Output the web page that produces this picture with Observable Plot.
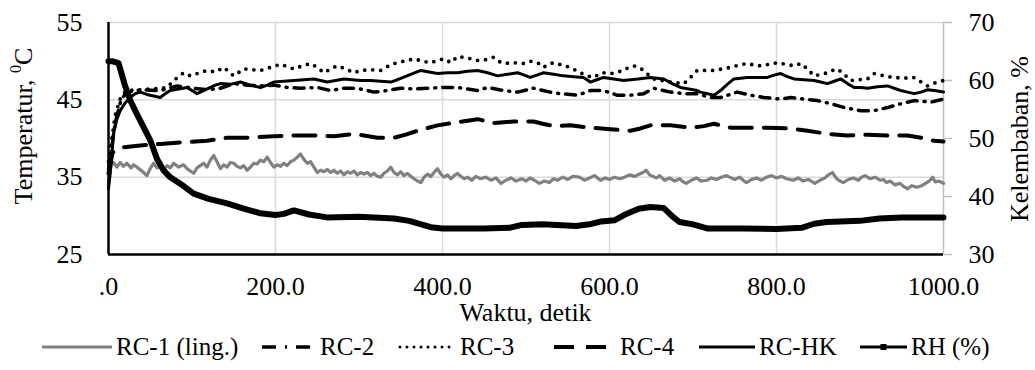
<!DOCTYPE html>
<html><head><meta charset="utf-8">
<script src="https://cdn.jsdelivr.net/npm/d3@7"></script>
<script src="https://cdn.jsdelivr.net/npm/@observablehq/plot@0.6"></script>
<style>
body{margin:0;background:#fff;font-family:"Liberation Serif","Times New Roman",serif;color:#000;}
#chart{width:1035px;height:330px;}
#legend{position:relative;width:1035px;height:40px;font-size:25px;margin-top:3px;}
#legend .item{position:absolute;top:0;display:flex;align-items:center;gap:2px;white-space:nowrap;}
</style></head><body>
<div id="chart"></div>
<div id="legend"></div>
<script>
// ---- data (time in s, temperature in °C, RH in %) ----
const xTicks = [0, 200, 400, 600, 800, 1000];
const tempTicks = [25, 35, 45, 55];
const rhTicks = [30, 40, 50, 60, 70];
const seriesNames = ["RC-1 (ling.)", "RC-2", "RC-3", "RC-4", "RC-HK", "RH (%)"];

const rc1T = [0,3,6,10,14,18,22,27,30,34,40,46,50,54,58,62,66,70,74,78,84,90,94,98,102,106,110,114,118,122,126,130,134,138,142,146,150,154,158,162,166,170,174,178,182,186,190,194,198,202,206,210,214,218,222,226,230,234,238,242,246,250,254,258,262,266,270,274,278,282,286,290,294,298,302,306,310,314,318,322,326,330,334,338,342,346,350,354,358,362,366,370,374,378,382,386,390,394,398,402,406,410,414,418,422,426,430,435,440,445,452,458,464,470,476,482,488,495,500,505,510,516,522,528,533,538,544,550,556,564,570,576,582,589,595,600,606,612,618,624,630,636,640,644,648,652,656,660,666,672,678,684,688,692,698,704,710,717,722,728,734,740,744,750,756,760,764,770,776,782,788,794,800,806,812,820,826,832,838,846,852,858,862,867,872,876,880,886,892,898,902,906,912,918,924,928,932,936,942,948,952,957,962,968,974,980,984,987,990,995,1000];
const rc1V = [34.0,36.8,36.9,36.3,36.9,36.4,36.8,36.2,36.6,36.3,35.8,35.2,36.1,36.8,36.2,36.4,35.9,36.5,36.2,36.8,36.3,36.6,36.1,35.8,35.5,36.2,36.5,36.8,36.3,37.2,37.8,37.0,36.1,36.6,36.3,36.9,36.8,36.4,36.2,36.5,35.9,36.3,36.8,36.7,37.2,37.0,37.6,36.9,36.3,36.6,36.4,36.8,36.5,37.0,37.2,37.6,38.0,37.3,36.8,37.0,36.3,35.6,35.9,35.7,36.0,35.6,35.9,35.5,35.8,35.3,35.7,35.5,35.8,35.3,35.6,35.4,35.6,35.2,35.5,35.1,35.0,35.5,35.8,36.3,35.6,35.3,35.7,35.2,35.5,35.1,34.8,34.5,34.3,35.0,35.4,35.1,35.6,36.1,35.4,35.0,35.3,34.8,35.2,35.5,35.1,34.8,35.0,34.6,35.1,34.8,35.0,34.6,34.9,34.2,34.6,34.9,34.5,34.8,34.5,34.9,34.6,34.2,34.5,34.3,34.8,34.6,35.0,34.7,35.1,35.0,34.6,34.9,35.2,34.6,34.9,34.7,35.0,34.8,35.0,35.3,35.1,35.4,35.6,35.9,35.3,35.1,34.9,35.2,34.6,34.9,34.5,34.8,34.4,34.2,34.6,34.9,34.5,34.6,34.9,34.7,35.0,35.2,35.0,34.7,35.0,34.6,34.3,34.7,34.9,34.6,35.0,35.2,34.9,35.1,34.8,34.6,34.9,34.5,34.7,34.2,34.6,34.9,35.3,35.6,34.8,34.5,34.3,34.7,34.9,34.6,35.0,35.2,34.8,35.0,34.6,34.7,34.3,34.5,34.0,34.2,33.8,33.5,33.9,33.7,33.9,34.3,34.6,35.0,34.4,34.5,34.2];

const rc2T = [0,8,15,22,40,62,82,102,118,134,150,166,182,198,214,230,250,266,282,298,318,334,350,366,382,402,418,430,442,454,473,490,509,529,541,562,577,593,609,625,641,653,673,689,705,720,733,753,769,785,805,817,833,849,865,881,901,917,933,949,965,985,1000];
const rc2V = [36.0,42.0,45.0,46.0,46.3,46.2,46.8,46.5,46.3,46.5,47.1,46.9,46.8,46.9,46.6,46.5,46.6,46.2,46.5,46.5,46.0,46.2,46.5,46.4,46.5,46.6,46.6,46.4,46.2,46.6,46.2,46.0,46.5,46.0,45.8,45.6,46.2,46.2,45.6,45.6,45.8,46.5,46.0,45.8,45.8,45.3,45.3,46.0,45.6,45.3,45.1,45.3,45.1,44.9,44.5,44.0,43.6,43.6,44.0,44.5,44.9,44.7,45.1];

const rc3T = [0,8,15,22,38,50,62,70,78,90,98,106,118,128,138,150,162,172,182,194,206,214,222,232,242,250,258,266,274,284,294,302,314,326,334,342,354,366,376,386,394,402,410,418,430,442,452,461,467,473,485,497,505,514,521,527,533,543,553,565,573,581,587,593,601,609,619,629,635,641,647,653,663,673,681,689,697,705,715,725,735,745,755,765,773,781,791,801,811,821,829,837,845,853,861,867,873,881,889,899,909,917,925,933,940,952,964,972,981,990,1000];
const rc3V = [37.0,43.0,45.5,46.2,46.3,46.4,46.5,46.6,47.5,48.5,48.1,48.4,48.8,48.6,49.2,48.1,49.0,48.9,48.8,49.2,49.6,49.3,49.0,49.4,49.7,49.2,48.5,49.0,49.4,49.0,48.5,48.8,48.9,48.8,49.3,49.7,50.0,50.3,50.0,49.8,50.1,50.3,49.8,50.6,50.4,50.1,50.2,50.5,50.0,49.7,49.8,49.7,50.0,49.8,49.2,49.6,49.8,49.5,49.2,48.5,48.1,47.9,48.3,48.5,48.4,48.5,49.0,49.4,49.2,48.8,48.2,47.7,47.5,47.3,47.2,47.1,47.9,48.8,48.8,48.8,49.0,49.2,49.5,49.7,49.5,49.4,49.6,49.8,49.6,49.4,49.7,49.0,48.1,48.3,48.5,48.8,49.0,48.3,47.5,47.6,47.7,48.4,48.2,48.0,47.9,47.8,47.9,47.4,46.8,47.2,47.5];

const rc4T = [0,5,14,38,62,86,118,142,166,198,222,246,270,294,306,322,342,356,370,394,418,442,450,461,485,509,520,533,553,577,601,625,637,649,673,697,713,725,745,769,789,817,837,861,885,909,933,957,973,989,1000];
const rc4V = [35.5,38.2,38.8,39.1,39.3,39.5,39.7,40.1,40.1,40.3,40.4,40.4,40.3,40.6,40.4,40.1,40.1,40.5,41.0,41.7,42.1,42.5,42.3,42.0,42.2,42.2,41.9,41.6,41.7,41.4,41.2,41.0,41.3,41.7,41.7,41.4,41.6,41.9,41.4,41.4,41.4,41.3,41.0,40.6,40.4,40.5,40.4,40.4,40.1,39.7,39.6];

const rchkT = [0,3,6,10,14,20,26,32,38,46,54,62,68,74,84,94,100,106,114,122,128,134,146,158,170,182,190,198,210,222,234,246,254,262,272,282,292,302,314,326,338,346,353,362,374,384,394,406,418,430,442,454,466,478,490,498,505,513,521,533,545,557,569,577,585,593,605,617,625,634,641,649,657,665,675,685,695,705,709,717,725,733,741,749,757,765,777,789,797,805,813,821,833,845,853,861,869,877,885,893,901,909,921,933,941,949,957,965,973,981,989,1000];
const rchkV = [33.5,36.5,40.6,42.5,43.6,44.6,45.3,45.8,46.0,45.7,45.5,45.3,45.8,46.2,46.4,46.6,46.2,45.8,46.2,46.6,46.9,47.1,47.0,47.3,46.9,46.6,46.9,47.3,47.4,47.5,47.6,47.7,47.5,47.3,47.5,47.7,47.6,47.5,47.5,47.4,47.3,47.6,47.9,48.3,48.8,48.6,48.4,48.5,48.5,48.7,48.8,48.5,48.1,48.3,48.5,48.2,47.9,48.2,48.5,48.3,48.1,48.0,47.9,47.3,47.6,47.9,47.7,47.5,47.6,47.7,47.8,47.9,47.8,47.7,47.1,46.6,46.4,46.2,46.0,45.8,45.6,46.2,47.0,47.7,47.8,47.9,47.9,47.9,48.2,48.4,48.0,47.7,47.6,47.5,47.3,47.1,47.4,47.7,47.1,46.6,46.6,46.5,46.7,46.8,46.5,46.2,46.0,45.8,46.0,46.3,46.2,46.0];

const rhT = [0,5,12,16,20,26,32,38,44,50,58,66,74,90,102,120,142,160,182,200,210,222,240,262,300,342,360,386,400,450,480,495,520,560,576,590,606,620,635,649,665,675,684,700,717,760,800,830,845,860,900,923,950,1000];
const rhV = [63.3,63.3,63.0,61.0,59.0,56.6,54.8,53.1,51.4,49.7,46.5,44.5,43.3,41.8,40.5,39.6,38.8,38.0,37.1,36.8,37.0,37.6,36.9,36.4,36.5,36.2,35.8,34.7,34.5,34.5,34.6,35.1,35.2,34.9,35.2,35.7,35.9,37.0,37.9,38.2,38.0,36.6,35.6,35.2,34.5,34.5,34.4,34.6,35.3,35.6,35.8,36.2,36.4,36.4];

// ---- layout ----
const W = 1035, H = 330;
const mL = 108, mR = 92, mT = 22, mB = H - 254;
const FONT = "'Liberation Serif', 'Times New Roman', serif";

// RH (%) mapped onto the temperature scale
const rhToTemp = d3.scaleLinear([30, 70], [25, 55]);

const toRows = (ts, vs, f = v => v) => ts.map((t, i) => ({t, v: f(vs[i])}));
const rc1 = toRows(rc1T, rc1V), rc2 = toRows(rc2T, rc2V), rc3 = toRows(rc3T, rc3V),
      rc4 = toRows(rc4T, rc4V), rchk = toRows(rchkT, rchkV), rh = toRows(rhT, rhV, rhToTemp);

const lineOpts = {x: "t", y: "v", strokeLinejoin: "round"};

const chart = Plot.plot({
  width: W, height: H,
  marginLeft: mL, marginRight: mR, marginTop: mT, marginBottom: mB,
  style: {fontFamily: FONT, fontSize: "26px", background: "white", color: "black"},
  x: {domain: [0, 1000]},
  y: {domain: [25, 55]},
  marks: [
    Plot.ruleY(tempTicks.slice(1), {stroke: "#d9d9d9", strokeWidth: 1.5}),
    Plot.ruleX(xTicks.slice(1, -1), {stroke: "#d9d9d9", strokeWidth: 1.5}),
    Plot.ruleX([1000], {stroke: "#bfbfbf", strokeWidth: 1.5}),
    Plot.axisX(xTicks, {tickSize: 0, tickPadding: 22, tickFormat: d => d === 0 ? ".0" : d.toFixed(1), label: null, fontSize: 26}),
    Plot.axisY(tempTicks, {tickSize: 0, tickPadding: 26, label: null, fontSize: 26}),
    Plot.axisY(rhTicks, {y: rhToTemp, anchor: "right", tickFormat: d => d, tickSize: 8, tickPadding: 17,
                         stroke: "#bfbfbf", strokeWidth: 1.5, fill: "black", label: null, fontSize: 26}),
    Plot.line(rc1, {...lineOpts, stroke: "#808080", strokeWidth: 3.2}),
    Plot.line(rc4, {...lineOpts, stroke: "black", strokeWidth: 4, strokeDasharray: "22,12"}),
    Plot.line(rc2, {...lineOpts, stroke: "black", strokeWidth: 3.5, strokeDasharray: "10,7,1,7", strokeLinecap: "round"}),
    Plot.line(rc3, {...lineOpts, stroke: "black", strokeWidth: 3.8, strokeDasharray: "0,8", strokeLinecap: "round"}),
    Plot.line(rchk, {...lineOpts, stroke: "black", strokeWidth: 3}),
    Plot.line(rh, {...lineOpts, stroke: "black", strokeWidth: 6}),
    Plot.ruleX([0], {stroke: "black", strokeWidth: 2.5}),
    Plot.ruleY([25], {stroke: "black", strokeWidth: 2.5})
  ]
});

// axis titles
const svg = d3.select(chart);
const lt = svg.append("text").attr("transform", "translate(32,126) rotate(-90)")
  .attr("text-anchor", "middle").attr("font-size", 26).attr("fill", "black");
lt.append("tspan").text("Temperatur, ");
lt.append("tspan").attr("font-size", 16).attr("dy", -11).text("0");
lt.append("tspan").attr("dy", 11).text("C");
svg.append("text").attr("transform", "translate(1028,139) rotate(-90)")
  .attr("text-anchor", "middle").attr("font-size", 26).attr("fill", "black").text("Kelembaban, %");
svg.append("text").attr("x", (mL + W - mR) / 2).attr("y", 321)
  .attr("text-anchor", "middle").attr("font-size", 26).attr("fill", "black").text("Waktu, detik");

document.getElementById("chart").append(chart);

// legend
const samples = [
  {stroke: "#808080", w: 3, dash: null, len: 70, left: 40},
  {stroke: "black", w: 3.5, dash: "14,9,2,9", len: 54, left: 260},
  {stroke: "black", w: 3, dash: "0,7", len: 56, left: 398, cap: "round"},
  {stroke: "black", w: 4, dash: "20,12", len: 62, left: 552},
  {stroke: "black", w: 3, dash: null, len: 56, left: 697},
  {stroke: "black", w: 3, dash: null, len: 47, left: 858, marker: true}
];
const legend = d3.select("#legend");
seriesNames.forEach((name, i) => {
  const s = samples[i];
  const it = legend.append("div").attr("class", "item").style("left", s.left + "px");
  const sv = it.append("svg").attr("width", s.len + 4).attr("height", 20);
  sv.append("line").attr("x1", 2).attr("x2", s.len + 2).attr("y1", 10).attr("y2", 10)
    .attr("stroke", s.stroke).attr("stroke-width", s.w)
    .attr("stroke-dasharray", s.dash).attr("stroke-linecap", s.cap || "butt");
  if (s.marker) sv.append("rect").attr("x", s.len / 2 - 1).attr("y", 7).attr("width", 6).attr("height", 6).attr("fill", "black");
  it.append("span").text(name);
});
</script>
</body></html>
